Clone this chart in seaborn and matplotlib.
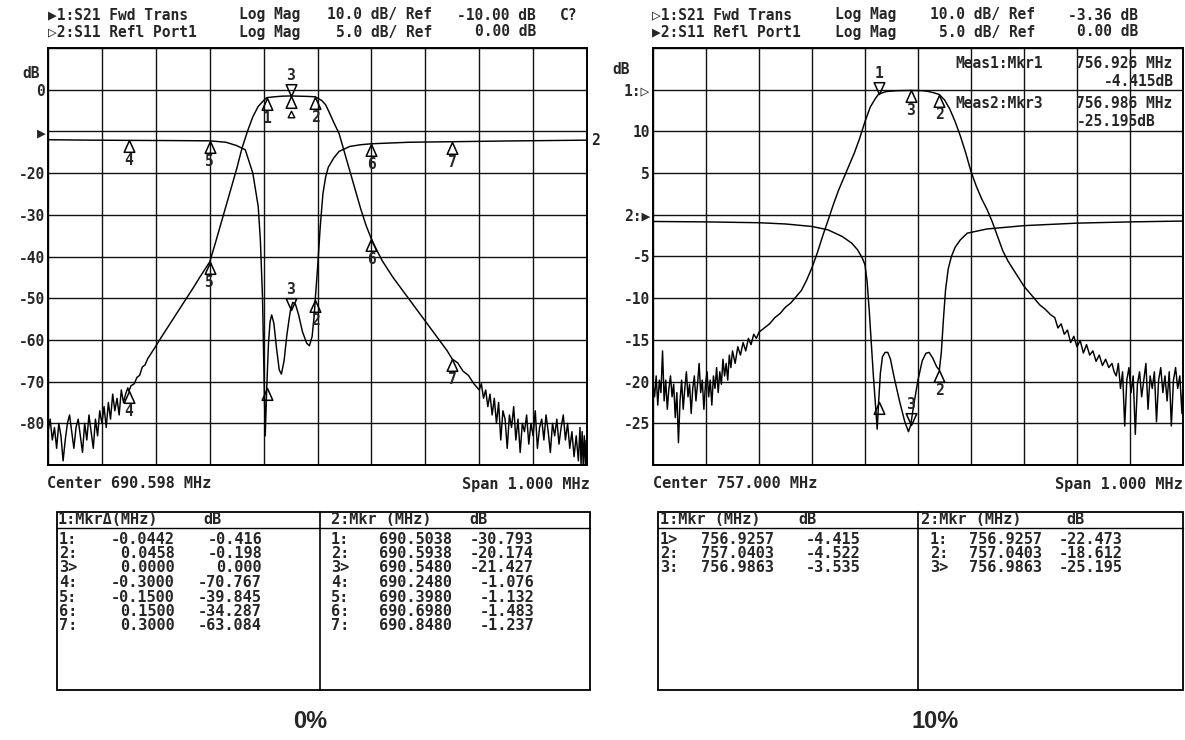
import numpy as np
import pandas as pd
import matplotlib
matplotlib.use("Agg")
import matplotlib.pyplot as plt
from matplotlib.path import Path
from matplotlib.patches import Rectangle
from matplotlib.lines import Line2D
import seaborn as sns

# ---------------- instrument settings ----------------
CENTER_L = 690.598   # MHz
CENTER_R = 757.000   # MHz
SPAN = 1.000         # MHz

# ---------------- 0 % panel traces (offset from centre, kHz / level, dB) -------------
s21_l_khz = [-500, -496, -492, -488, -484, -480, -476, -472, -468, -464,
             -460, -456, -452, -448, -444, -440, -436, -432, -428, -424,
             -420, -416, -412, -408, -404, -400, -396, -392, -388, -384,
             -380, -376, -372, -368, -364, -360, -356, -352, -350, -346,
             -340, -335, -330, -325, -320, -315, -310, -300, -290, -280,
             -270, -260, -250, -240, -230, -220, -210, -200, -190, -180,
             -170, -160, -150, -140, -130, -120, -110, -100, -94.2, -80,
             -65, -50, -35, -20, -4.2, 0, 8, 15, 22, 30,
             40, 50, 60, 70, 80, 90, 100, 110, 120, 140,
             160, 180, 200, 220, 240, 250, 260, 270, 280, 290,
             300, 304, 308, 312, 316, 320, 324, 328, 332, 336,
             340, 344, 348, 352, 356, 360, 364, 368, 372, 376,
             380, 384, 388, 392, 396, 400, 404, 408, 412, 416,
             420, 424, 428, 432, 436, 440, 444, 448, 452, 456,
             460, 464, 468, 472, 476, 480, 484, 487, 489, 491,
             493, 495, 497, 499, 500]
s21_l_db = [-82, -79, -84, -81, -86, -80, -83, -89, -84, -80,
            -78, -82, -86, -81, -79, -83, -87, -80, -84, -78,
            -82, -86, -79, -83, -77, -80, -76, -81, -75, -79,
            -73, -77, -74, -78, -72, -75, -73, -71.5, -72.3, -71,
            -70.5, -69, -68.5, -66.5, -66, -64.5, -63.5, -61.5, -59.4, -57.4,
            -55.4, -53.4, -51.4, -49.4, -47.4, -45.3, -43.3, -41.3, -37, -32.5,
            -28, -23.5, -19, -14, -10, -6.5, -4, -2.6, -1.9, -1.7,
            -1.55, -1.5, -1.55, -1.6, -1.7, -2.0, -2.6, -3.6, -5.5, -7.8,
            -10.5, -15, -19.5, -24, -28.5, -32.5, -35.8, -38.5, -41, -45,
            -48.5, -52, -55.5, -59, -62.5, -64.6, -65.5, -67.5, -68.5, -70.5,
            -72, -70.5, -74, -72, -76, -73, -78, -74, -80, -75,
            -84, -77, -79, -86, -78, -81, -76, -84, -79, -87,
            -80, -82, -78, -85, -80, -83, -77, -86, -81, -79,
            -84, -78, -82, -87, -80, -83, -79, -85, -81, -78,
            -84, -80, -86, -82, -88, -83, -89, -81, -90, -82,
            -90, -83, -90, -84, -89]

s11_l_khz = [-500, -420, -350, -270, -200, -170, -150, -134, -120, -110,
             -106, -102, -99, -97, -95.5, -94.2, -91, -88, -85, -81,
             -76, -71, -67, -62, -57, -52, -50, -46, -41, -35,
             -28, -20, -15, -10, -6, -4.2, 0, 5, 10, 15,
             20, 30, 40, 60, 80, 100, 170, 250, 350, 500]
s11_l_db = [-1.0, -1.05, -1.076, -1.1, -1.132, -1.3, -1.7, -2.2, -5, -9,
            -13, -20, -30, -36.5, -33.5, -30.793, -25.5, -22.8, -22, -23,
            -26, -28.6, -29.1, -27.5, -24.5, -22.2, -21.427, -20.5, -20.7, -22,
            -24, -25.4, -25.7, -24.6, -22, -20.174, -16.5, -11.5, -7.5, -5.5,
            -4.3, -3.2, -2.4, -1.8, -1.6, -1.483, -1.3, -1.237, -1.15, -1.05]

# ---------------- 10 % panel traces ----------------
s21_r_khz = [-500, -497, -494, -491, -488, -485, -482, -479, -476, -473,
             -470, -467, -464, -461, -458, -455, -452, -449, -446, -443,
             -440, -437, -434, -431, -428, -425, -422, -419, -416, -413,
             -410, -407, -404, -401, -398, -395, -392, -389, -386, -383,
             -380, -377, -374, -371, -368, -365, -362, -359, -356, -353,
             -350, -345, -340, -335, -330, -325, -320, -315, -310, -305,
             -300, -290, -280, -270, -260, -250, -240, -230, -220, -210,
             -200, -190, -180, -170, -160, -150, -140, -130, -120, -110,
             -100, -90, -80, -74.3, -60, -40, -13.7, 10, 20, 30,
             40.3, 50, 60, 70, 80, 90, 100, 110, 120, 130,
             140, 150, 160, 170, 180, 190, 200, 210, 220, 230,
             240, 250, 258, 264, 270, 276, 282, 288, 294, 300,
             306, 312, 318, 324, 330, 336, 342, 348, 354, 360,
             366, 370, 374, 378, 382, 386, 390, 394, 398, 402,
             406, 410, 414, 418, 422, 426, 430, 434, 438, 442,
             446, 450, 454, 458, 462, 466, 470, 474, 478, 482,
             486, 490, 494, 498, 500]
s21_r_db = [-74, -77, -72, -79, -73, -76, -66, -78, -73, -80,
            -75, -72, -77, -74, -82, -76, -88, -78, -73, -80,
            -75, -71, -77, -74, -81, -75, -72, -78, -74, -69,
            -76, -73, -80, -74, -71, -77, -73, -79, -72, -75,
            -70, -76, -71, -74, -68, -72, -69, -73, -67, -70,
            -66, -69, -65, -67, -64, -66, -63, -64.5, -62, -63,
            -61.5, -60.5, -59.5, -58, -57, -55.5, -54.5, -53, -51.5, -49,
            -46, -42.5, -38.5, -34.8, -31, -27.5, -24.5, -21.5, -18.5, -15,
            -11, -7.5, -5.4, -4.415, -3.8, -3.6, -3.535, -3.6, -3.8, -4.1,
            -4.522, -5.8, -8, -11, -14.5, -18.5, -23, -26.5, -29.5, -32,
            -35, -38.5, -42, -44.5, -46.5, -48.5, -50.5, -52, -53.5, -55,
            -56, -57.3, -58, -60.5, -59.5, -62, -61, -64, -62.5, -65,
            -63.5, -66.5, -64.5, -67, -66, -68.5, -67, -69.5, -68, -70,
            -69, -71, -72, -69, -75, -71, -84, -73, -70, -76,
            -72, -86, -74, -71, -77, -73, -69, -80, -72, -75,
            -71, -83, -73, -70, -76, -72, -78, -71, -84, -73,
            -70, -75, -72, -81, -74]

s11_r_khz = [-500, -400, -300, -250, -200, -170, -143, -125, -114, -105,
             -100, -96, -92, -88, -84, -80, -77, -74.3, -71, -67,
             -62, -57, -52, -45, -35, -25, -18, -13.7, -8, 0,
             8, 15, 21, 28, 35, 40.3, 44, 48, 52, 57,
             63, 70, 80, 93, 130, 200, 300, 400, 500]
s11_r_db = [-0.8, -0.85, -0.95, -1.1, -1.4, -1.8, -2.6, -3.4, -4.2, -5.2,
            -6, -8, -11.5, -15.5, -19.5, -23, -25.7, -22.473, -19, -17,
            -16.5, -16.5, -17.3, -19.5, -22.3, -24.8, -26, -25.195, -22.8, -19.8,
            -17.5, -16.6, -16.5, -17.2, -18.2, -18.612, -16.5, -12.5, -9, -6.5,
            -5, -3.9, -3, -2.2, -1.7, -1.3, -1.0, -0.85, -0.75]

# ---------------- marker tables ----------------
mkr_l_names1 = ["1:", "2:", "3>", "4:", "5:", "6:", "7:"]
mkr_l_names2 = ["1:", "2:", "3>", "4:", "5:", "6:", "7:"]
mkr_l_s21_delta_mhz = [-0.0442, 0.0458, 0.0000, -0.3000, -0.1500, 0.1500, 0.3000]
mkr_l_s21_delta_db = [-0.416, -0.198, 0.000, -70.767, -39.845, -34.287, -63.084]
mkr_l_freq = [690.5038, 690.5938, 690.5480, 690.2480, 690.3980, 690.6980, 690.8480]
mkr_l_s11_db = [-30.793, -20.174, -21.427, -1.076, -1.132, -1.483, -1.237]
S21_L_REF_MKR_DB = -1.5     # absolute level of reference marker 3

mkr_r_names1 = ["1>", "2:", "3:"]
mkr_r_names2 = ["1:", "2:", "3>"]
mkr_r_freq = [756.9257, 757.0403, 756.9863]
mkr_r_s21_db = [-4.415, -4.522, -3.535]
mkr_r_s11_db = [-22.473, -18.612, -25.195]

# ---------------- figure ----------------
sns.set_theme(style="white")
plt.rcParams["font.family"] = ["DejaVu Sans Mono", "DejaVu Sans"]
plt.rcParams["font.weight"] = "bold"

W, H = 1185, 740
fig = plt.figure(figsize=(W / 100, H / 100), dpi=100)
fig.patch.set_facecolor("white")


def fx(px):
    return px / W


def fy(py):
    return 1 - py / H


FS = 10.5
FS_T = 11

TRI_UP = Path([(0, 0), (-0.45, -1), (0.45, -1), (0, 0)],
              [Path.MOVETO, Path.LINETO, Path.LINETO, Path.CLOSEPOLY])
TRI_DN = Path([(0, 0), (-0.45, 1), (0.45, 1), (0, 0)],
              [Path.MOVETO, Path.LINETO, Path.LINETO, Path.CLOSEPOLY])
TRI_SMALL = Path([(0, -1.25), (-0.28, -1.8), (0.28, -1.8), (0, -1.25)],
                 [Path.MOVETO, Path.LINETO, Path.LINETO, Path.CLOSEPOLY])
MS = 17


def make_panel(left_px, right_px):
    ax = fig.add_axes([fx(left_px), fy(465), fx(right_px) - fx(left_px), fy(48) - fy(465)])
    ax2 = ax.twinx()
    return ax, ax2


def finish_panel(ax, ax2, center, ylim_main, ylim_twin, ylabels):
    ax.set_xlim(center - SPAN / 2, center + SPAN / 2)
    ax.set_xticks(np.linspace(center - SPAN / 2, center + SPAN / 2, 11))
    ax.set_ylim(*ylim_main)
    ax.set_yticks(np.linspace(ylim_main[0], ylim_main[1], 11))
    ax.set_yticklabels(ylabels)
    ax.grid(True, color="#111111", lw=1.0)
    ax.tick_params(axis="both", length=0, labelbottom=False, pad=2, labelsize=FS)
    for lab in ax.get_yticklabels():
        lab.set_fontweight("bold")
    for s in ax.spines.values():
        s.set_color("black")
        s.set_linewidth(1.4)
    ax.set_xlabel("")
    ax.set_ylabel("")
    ax2.set_ylim(*ylim_twin)
    ax2.set_yticks([])
    ax2.set_ylabel("")
    ax2.grid(False)
    for s in ax2.spines.values():
        s.set_visible(False)


def trace(ax, center, khz, db):
    df = pd.DataFrame({"f": center + np.array(khz) / 1000.0, "db": db})
    sns.lineplot(data=df, x="f", y="db", ax=ax, color="black", lw=1.05,
                 estimator=None, zorder=4)


def mark(ax, f, db, label, up=True):
    ax.plot([f], [db], marker=TRI_UP if up else TRI_DN, ms=MS, mfc="none",
            mec="black", mew=1.1, ls="none", zorder=6, clip_on=False)
    if label:
        ax.annotate(label, (f, db), xytext=(0, -9.3 if up else 9.3),
                    textcoords="offset points", ha="center",
                    va="top" if up else "bottom", fontsize=FS,
                    fontweight="bold", zorder=7)


# ---------- left panel (0 %) ----------
axL, axL2 = make_panel(48, 587)
trace(axL, CENTER_L, s21_l_khz, s21_l_db)
trace(axL2, CENTER_L, s11_l_khz, s11_l_db)
labL = ["", "-80", "-70", "-60", "-50", "-40", "-30", "-20", "\u25B6", "0", ""]
finish_panel(axL, axL2, CENTER_L, (-90, 10), (-40, 10), labL)

for i, name in enumerate(mkr_l_names1):
    n = name[0]
    f = mkr_l_freq[i]
    v = S21_L_REF_MKR_DB + mkr_l_s21_delta_db[i]
    if n == "3":
        mark(axL, f, v, "3", up=False)
        mark(axL, f, v, "", up=True)
        axL.plot([f], [v], marker=TRI_SMALL, ms=MS * 1.8, mfc="none", mec="black",
                 mew=1.0, ls="none", zorder=6)
    else:
        mark(axL, f, v, n, up=True)

for i, name in enumerate(mkr_l_names2):
    n = name[0]
    f = mkr_l_freq[i]
    v = mkr_l_s11_db[i]
    if n == "1":
        mark(axL2, f, v, "", up=True)
    elif n == "3":
        mark(axL2, f, v, "3", up=False)
    else:
        mark(axL2, f, v, n, up=True)

axL2.annotate("2", (CENTER_L + s11_l_khz[-1] / 1000.0, s11_l_db[-1]), xytext=(3, 0),
              textcoords="offset points", ha="left", va="center", fontsize=FS,
              fontweight="bold", annotation_clip=False)

# ---------- right panel (10 %) ----------
axR, axR2 = make_panel(653, 1183)
trace(axR2, CENTER_R, s21_r_khz, s21_r_db)
trace(axR, CENTER_R, s11_r_khz, s11_r_db)
labR = ["", "-25", "-20", "-15", "-10", "-5", "2:\u25B6", "5", "10", "1:\u25B7", ""]
finish_panel(axR, axR2, CENTER_R, (-30, 20), (-93.36, 6.64), labR)

for i, name in enumerate(mkr_r_names1):
    n = name[0]
    mark(axR2, mkr_r_freq[i], mkr_r_s21_db[i], n, up=(n != "1"))
for i, name in enumerate(mkr_r_names2):
    n = name[0]
    if n == "1":
        mark(axR, mkr_r_freq[i], mkr_r_s11_db[i], "", up=True)
    else:
        mark(axR, mkr_r_freq[i], mkr_r_s11_db[i], n, up=(n != "3"))

# measurement read-outs
meas = [("Meas1:Mkr1", mkr_r_freq[0], mkr_r_s21_db[0], 63, 82, 1174, "right"),
        ("Meas2:Mkr3", mkr_r_freq[2], mkr_r_s11_db[2], 103, 122, 1077, "left")]
for title, fr, lv, y1, y2, xv, hav in meas:
    fig.text(fx(955), fy(y1), title, fontsize=FS, fontweight="bold", va="center")
    fig.text(fx(1076), fy(y1), f"{fr:.3f} MHz", fontsize=FS, fontweight="bold", va="center")
    fig.text(fx(xv), fy(y2), f"{lv:.3f}dB", fontsize=FS, fontweight="bold", va="center", ha=hav)

# ---------- headers ----------
def htext(x, y, s, ha="left"):
    fig.text(fx(x), fy(y), s, fontsize=FS, fontweight="bold", va="center", ha=ha)


htext(48, 15, "\u25B61:S21 Fwd Trans")
htext(239, 15, "Log Mag")
htext(432, 15, "10.0 dB/ Ref", ha="right")
htext(536, 15, "-10.00 dB", ha="right")
htext(560, 15, "C?")
htext(48, 32, "\u25B72:S11 Refl Port1")
htext(239, 32, "Log Mag")
htext(432, 32, "5.0 dB/ Ref", ha="right")
htext(536, 32, "0.00 dB", ha="right")

htext(652, 15, "\u25B71:S21 Fwd Trans")
htext(835, 15, "Log Mag")
htext(1035, 15, "10.0 dB/ Ref", ha="right")
htext(1138, 15, "-3.36 dB", ha="right")
htext(652, 32, "\u25B62:S11 Refl Port1")
htext(835, 32, "Log Mag")
htext(1035, 32, "5.0 dB/ Ref", ha="right")
htext(1138, 32, "0.00 dB", ha="right")

htext(22, 73, "dB")
htext(612, 70, "dB")

fig.text(fx(47), fy(484), f"Center {CENTER_L:.3f} MHz", fontsize=FS_T, fontweight="bold", va="center")
fig.text(fx(590), fy(484), f"Span {SPAN:.3f} MHz", fontsize=FS_T, fontweight="bold", va="center", ha="right")
fig.text(fx(653), fy(484), f"Center {CENTER_R:.3f} MHz", fontsize=FS_T, fontweight="bold", va="center")
fig.text(fx(1183), fy(484), f"Span {SPAN:.3f} MHz", fontsize=FS_T, fontweight="bold", va="center", ha="right")

# ---------- marker tables ----------
def box(x0, x1, xm, y0=512, y1=690):
    fig.add_artist(Rectangle((fx(x0), fy(y1)), fx(x1) - fx(x0), fy(y0) - fy(y1),
                             transform=fig.transFigure, fill=False, ec="black", lw=1.3))
    fig.add_artist(Line2D([fx(xm), fx(xm)], [fy(y0), fy(y1)], transform=fig.transFigure,
                          color="black", lw=1.2))
    fig.add_artist(Line2D([fx(x0), fx(x1)], [fy(528), fy(528)], transform=fig.transFigure,
                          color="black", lw=1.0))


def ttext(x, y, s, ha="left"):
    fig.text(fx(x), fy(y), s, fontsize=FS_T, fontweight="bold", va="center", ha=ha)


ROW0, DROW = 539, 14.5

box(57, 590, 320)
ttext(58, 519, "1:Mkr\u0394(MHz)")
ttext(203, 519, "dB")
ttext(331, 519, "2:Mkr (MHz)")
ttext(469, 519, "dB")
for i in range(len(mkr_l_names1)):
    y = ROW0 + DROW * i
    ttext(59, y, mkr_l_names1[i])
    ttext(175, y, f"{mkr_l_s21_delta_mhz[i]:.4f}", ha="right")
    ttext(262, y, f"{mkr_l_s21_delta_db[i]:.3f}", ha="right")
    ttext(331, y, mkr_l_names2[i])
    ttext(452, y, f"{mkr_l_freq[i]:.4f}", ha="right")
    ttext(534, y, f"{mkr_l_s11_db[i]:.3f}", ha="right")

box(658, 1183, 918)
ttext(660, 519, "1:Mkr (MHz)")
ttext(798, 519, "dB")
ttext(921, 519, "2:Mkr (MHz)")
ttext(1066, 519, "dB")
for i in range(len(mkr_r_names1)):
    y = ROW0 + DROW * i
    ttext(660, y, mkr_r_names1[i])
    ttext(774, y, f"{mkr_r_freq[i]:.4f}", ha="right")
    ttext(860, y, f"{mkr_r_s21_db[i]:.3f}", ha="right")
    ttext(930, y, mkr_r_names2[i])
    ttext(1042, y, f"{mkr_r_freq[i]:.4f}", ha="right")
    ttext(1123, y, f"{mkr_r_s11_db[i]:.3f}", ha="right")

# ---------- captions ----------
fig.text(fx(310), fy(722), "0%", fontsize=17, fontweight="bold", ha="center", va="center",
         family=["Liberation Sans", "DejaVu Sans"])
fig.text(fx(935), fy(722), "10%", fontsize=17, fontweight="bold", ha="center", va="center",
         family=["Liberation Sans", "DejaVu Sans"])

fig.savefig("out.png", dpi=100, facecolor="white")
